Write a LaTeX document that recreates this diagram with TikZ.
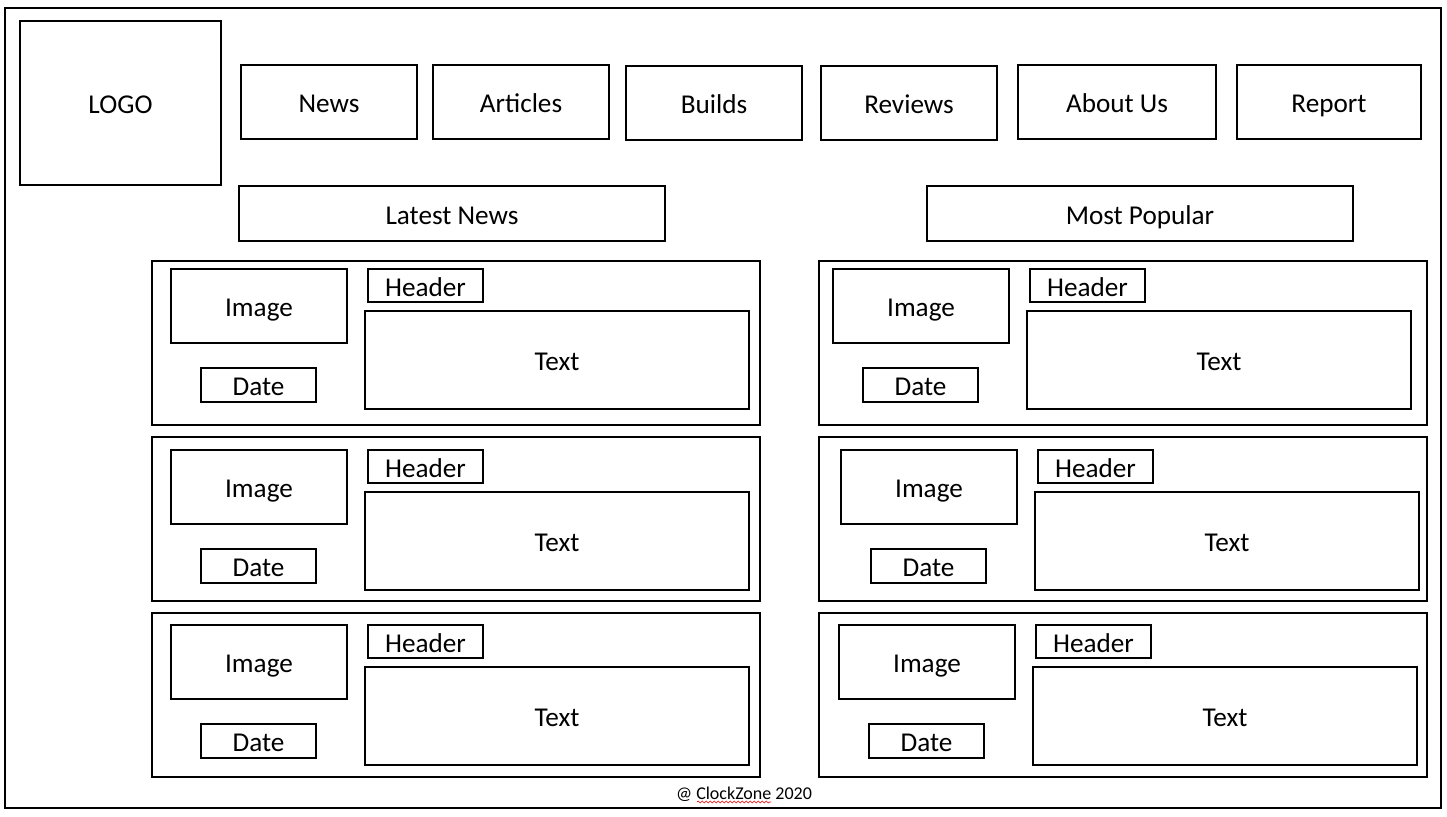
\documentclass[tikz,border=0pt]{standalone}
\usepackage{fontspec}
\setmainfont{Carlito}
\usepackage{tikz}
\usetikzlibrary{fit, decorations.pathmorphing}

\tikzset{
  box/.style={draw, line width=1pt, inner sep=0pt},
  navtext/.style={font=\fontsize{13.6}{16}\selectfont, text height=10.6pt, text depth=0pt},
  cardtext/.style={font=\fontsize{13.6}{16}\selectfont, text height=10.6pt, text depth=0pt}
}

\begin{document}
\begin{tikzpicture}[x=0.5pt, y=-0.5pt]
	\useasboundingbox (0,0) rectangle (1447,817);
	
	% Page frame
	\node[box, fit={(5,8) (1441,808)}] (page) {};
	
	% Logo and menu
	\node[box, fit={(20,21) (221,185)}, label={[navtext]center:LOGO}] (logo) {};
	\node[box, fit={(241,65) (417,139)}, label={[navtext]center:News}] (news) {};
	\node[box, fit={(433,65) (609,139)}, label={[navtext]center:Articles}] (articles) {};
	\node[box, fit={(626,66) (802,140)}, label={[navtext]center:Builds}] (builds) {};
	\node[box, fit={(821,66) (997,140)}, label={[navtext]center:Reviews}] (reviews) {};
	\node[box, fit={(1018,65) (1216,139)}, label={[navtext]center:About Us}] (aboutus) {};
	\node[box, fit={(1237,65) (1421,139)}, label={[navtext]center:Report}] (report) {};
	
	% Column titles
	\node[box, fit={(239,186) (665,241)}, label={[cardtext]center:Latest News}] (latest) {};
	\node[box, fit={(927,186) (1353,241)}, label={[cardtext]center:Most Popular}] (popular) {};
	
	% Cards
	\foreach \cx/\cy/\dx/\dy/\n in {152/261/0/0/1, 152/437/0/5/2, 152/613/0/4/3,
	                                 819/261/-5/0/4, 819/437/3/5/5, 819/613/1/4/6}{
		\begin{scope}[shift={(\cx,\cy)}]
			\node[box, fit={(0,0) (608,164)}] (card\n) {};
			\node[box, fit={(19+\dx,8+\dy) (195+\dx,82+\dy)},
				label={[cardtext]center:Image}] (image\n) {};
			\node[box, fit={(216+\dx,8+\dy) (331+\dx,41+\dy)},
				label={[cardtext]center:Header}] (header\n) {};
			\node[box, fit={(213+\dx,50+\dy) (597+\dx,148+\dy)},
				label={[cardtext]center:Text}] (text\n) {};
			\node[box, fit={(49+\dx,107+\dy) (164+\dx,141+\dy)},
				label={[cardtext]center:Date}] (date\n) {};
		\end{scope}
	}
	
	% Footer
	\node[font=\fontsize{9}{11}\selectfont] (footer) at (744,794) {@ ClockZone 2020};
	\draw[red, line width=0.3pt, decorate, decoration={snake, amplitude=0.5pt, segment length=2pt}]
		(697,802) -- (771,802);
\end{tikzpicture}
\end{document}
